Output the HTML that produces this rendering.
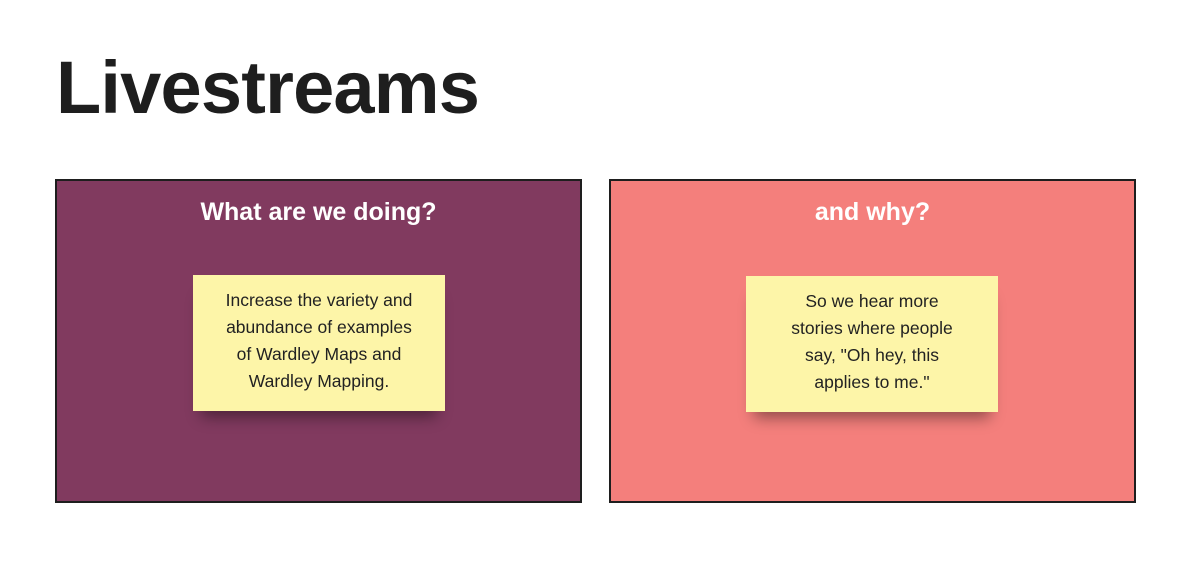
<!DOCTYPE html>
<html><head><style>
body{margin:0;width:1200px;height:569px;background:#fff;position:relative;overflow:hidden;font-family:"Liberation Sans",sans-serif;}
.t{position:absolute;left:56px;top:43px;font-size:74px;font-weight:bold;color:#1e1e1e;letter-spacing:-0.8px;line-height:90px;}
.p{position:absolute;top:179px;width:523px;height:320px;border:2px solid #1e1e1e;}
.h{position:absolute;top:196px;text-align:center;color:#fff;font-weight:bold;font-size:25px;line-height:32px;}
.s{position:absolute;width:252px;height:136px;background:#fdf5a8;box-shadow:0 14px 14px -8px rgba(0,0,0,0.4);text-align:center;font-size:17.5px;line-height:27px;color:#222;box-sizing:border-box;padding-top:12px;}
</style></head><body>
<div class="t">Livestreams</div>
<div class="p" style="left:55px;background:#813a5f"></div>
<div class="p" style="left:609px;background:#f47f7c"></div>
<div class="h" style="left:55px;width:527px">What are we doing?</div>
<div class="h" style="left:609px;width:527px">and why?</div>
<div class="s" style="left:193px;top:275px">Increase the variety and<br>abundance of examples<br>of Wardley Maps and<br>Wardley Mapping.</div>
<div class="s" style="left:746px;top:276px">So we hear more<br>stories where people<br>say, "Oh hey, this<br>applies to me."</div>
</body></html>
